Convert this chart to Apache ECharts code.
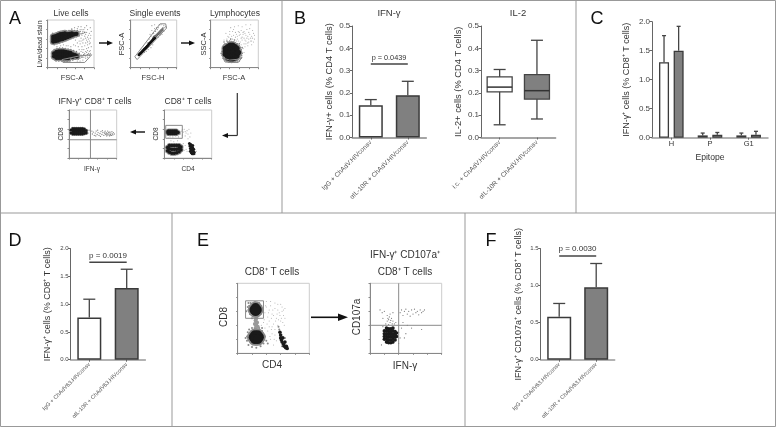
<!DOCTYPE html>
<html><head><meta charset="utf-8">
<style>html,body{margin:0;padding:0;background:#fff}#c{width:776px;height:427px;filter:blur(0.4px)}</style>
<script src="https://cdn.jsdelivr.net/npm/echarts@6/dist/echarts.min.js"></script>
</head><body><div id="c"></div>
<script>
// ---------- bar / box values ----------
const catsB1 = ['IgG + ChAdV.HIVconsv', 'αIL-10R + ChAdV.HIVconsv'];
const valsB1 = [0.145, 0.19];
const errB1 = [0.17, 0.252];
const pB1 = 0.33;
const catsB2 = ['i.c. + ChAdV.HIVconsv', 'αIL-10R + ChAdV.HIVconsv'];
const boxB2 = [[0.057, 0.205, 0.226, 0.272, 0.305], [0.083, 0.172, 0.21, 0.282, 0.436]];
const catsC = ['H', 'P', 'G1'];
const valsC1 = [1.3, 0.04, 0.04];
const errC1 = [1.76, 0.08, 0.08];
const valsC2 = [1.5, 0.05, 0.05];
const errC2 = [1.92, 0.09, 0.11];
const catsD = ['IgG + ChAdV63.HIVconsv', 'αIL-10R + ChAdV63.HIVconsv'];
const valsD = [0.76, 1.29];
const errD = [1.09, 1.63];
const pD = 1.755;
const valsF = [0.58, 0.98];
const errF = [0.76, 1.3];
const pF = 1.4;
// ---------- flow cytometry events (read by eye, % of plot width / height) ----------
const liveDense = [[12,60],[12,55],[12,65],[17,56],[17,62],[17,66],[22,57],[22,63],[22,68],[27,59],[27,65],[27,70],[32,60],[32,66],[32,71],[37,62],[37,68],[37,72],[42,64],[42,70],[47,66],[47,71],[52,68],[52,72],[57,70],[62,71],
 [14,30],[14,24],[19,33],[19,27],[19,21],[24,34],[24,28],[24,21],[29,34],[29,28],[29,21],[34,34],[34,27],[34,20],[39,33],[39,27],[39,20],[44,32],[44,26],[44,20],[49,31],[49,25],[54,28],[54,23],[59,26],[63,24]];
const liveHalo = [[9,52],[9,60],[9,68],[11,72],[14,48],[16,72],[20,50],[22,74],[26,52],[28,76],[32,54],[34,77],[38,57],[40,77],[44,59],[46,78],[50,61],[52,79],[56,63],[58,78],[62,65],[64,78],[68,68],[70,76],[72,71],[76,72],[80,74],
 [10,24],[10,32],[12,18],[14,38],[18,14],[20,40],[24,14],[26,41],[30,14],[32,41],[36,13],[38,40],[42,13],[44,39],[48,14],[50,38],[54,16],[56,36],[60,18],[62,34],[66,18],[68,30],[72,26],[74,22],[78,27],[82,25],[86,27],[90,26]];
const liveSparse = [[64,82],[68,66],[70,80],[72,62],[74,80],[74,68],[76,76],[78,60],[78,80],[80,84],[80,66],[82,70],[84,58],[84,74],[86,64],[86,80],[88,68],[90,72],[90,56],[92,62],[94,76],[70,50],[74,44],[76,52],[80,46],[82,52],[84,40],[86,48],[88,42],[90,50],[92,36],[94,44],[68,38],[72,34],[76,32],[78,38],[80,30],[82,34],[84,32],[86,36],[88,30],[90,34],[92,30],[70,20],[74,24],[78,22],[82,20],[86,22],[60,46],[56,48],[50,44],[44,46],[40,46],[34,48],[28,46],[20,44],[66,86],[58,84],[52,82],[72,86],[84,88],[92,84],[64,14],[70,14],[76,16],[60,58],[68,56],[64,52],[72,56],[76,58],[82,62],[88,60],[93,68],[66,44],[74,38],[86,54],[92,52]];
const singleDense = [[18,27],[20,29],[22,31],[24,33],[26,35],[28,37],[30,39],[32,41],[34,43],[36,45],[38,47],[40,50],[42,52],[44,54],[46,56],[48,58],[50,60],[52,62]];
const singleMid = [[48,62],[50,65],[52,66],[54,67],[54,63],[56,69],[56,65],[58,71],[58,68],[60,73],[60,70],[62,75],[62,71],[64,77],[64,73],[66,79],[66,75],[68,81],[68,77],[70,83],[70,79]];
const singleSparse = [[48,72],[46,78],[52,82],[56,84],[44,66],[60,84],[62,90],[66,90],[72,88],[74,84],[76,86],[44,42],[48,48],[34,34],[38,38],[24,28],[30,32],[40,60],[36,52],[42,70],[54,76],[58,80],[50,72],[72,76],[68,70],[60,64],[28,46],[22,38],[64,68],[46,88],[52,90]];
const lymphDense = [[31,28],[31,34],[31,40],[36,21],[36,28],[36,36],[36,44],[41,19],[41,26],[41,34],[41,42],[41,47],[46,19],[46,26],[46,34],[46,42],[46,47],[51,21],[51,28],[51,36],[51,44],[55,25],[55,32],[55,40],[58,32]];
const lymphHalo = [[24,26],[24,34],[26,44],[30,50],[36,54],[44,55],[52,52],[60,46],[64,38],[66,30],[64,20],[60,14],[50,12],[38,12],[30,16],[26,20],[22,30],[28,48],[40,56],[48,54],[56,50],[62,42],[65,25],[56,14],[44,11],[33,14],[60,50],[34,56],[50,58],[42,60],[28,54],[66,42]];
const lymphSparse = [[28,58],[34,60],[38,64],[46,60],[54,56],[58,56],[62,54],[64,48],[68,40],[70,32],[66,58],[70,50],[72,44],[74,56],[78,52],[80,60],[84,56],[86,48],[88,62],[66,64],[70,62],[74,68],[78,66],[82,70],[86,66],[90,72],[92,60],[60,68],[56,66],[52,64],[48,68],[44,66],[40,70],[36,66],[46,76],[52,74],[58,76],[64,78],[70,76],[76,80],[82,82],[88,78],[42,84],[50,86],[58,88],[66,86],[74,90],[84,90],[32,72],[68,70],[72,58],[62,70],[56,60],[76,62],[80,74],[84,62],[78,46],[74,50],[68,74],[60,74],[54,70],[48,80],[40,76],[86,56],[90,54],[92,68],[80,54],[72,72],[64,62]];
const ifnDense = [[4,52],[4,58],[8,50],[8,54],[8,58],[8,61],[12,50],[12,54],[12,58],[12,61],[16,50],[16,54],[16,58],[16,61],[20,50],[20,54],[20,58],[20,61],[24,50],[24,54],[24,58],[24,61],[28,50],[28,54],[28,58],[28,61],[32,51],[32,56],[32,60],[36,52],[36,57]];
const ifnSparse = [[40,52],[42,58],[49,50],[51,54],[53,47],[55,52],[57,56],[59,49],[61,53],[63,47],[65,51],[67,55],[69,49],[71,53],[73,47],[75,51],[76,56],[77,49],[78,53],[79,46],[80,51],[81,56],[82,48],[83,53],[84,50],[85,46],[86,54],[87,49],[88,52],[89,47],[90,55],[91,50],[92,48],[93,53],[95,50],[60,58],[70,57],[48,56],[56,46],[66,45],[74,54],[80,48],[84,54],[86,47],[78,50]];
const cd8Dense = [[6,54],[9,51],[9,56],[13,51],[13,56],[17,51],[17,56],[21,51],[21,56],[25,51],[25,56],[29,53],
 [7,15],[7,22],[11,12],[11,19],[11,26],[16,10],[16,18],[16,26],[21,10],[21,18],[21,26],[26,11],[26,18],[26,26],[31,13],[31,20],[31,26],[35,17],[35,23]];
const cd8Streak = [[53,30],[54,25],[55,20],[55,14],[56,28],[57,23],[57,11],[58,17],[59,9],[60,26],[60,21],[61,14],[62,9],[62,18],[63,12]];
const cd8Sparse = [[34,50],[36,56],[38,48],[40,54],[42,60],[44,46],[46,52],[48,57],[50,50],[52,60],[54,44],[30,44],[24,46],[18,44],[12,44],[8,42],[40,30],[44,26],[46,18],[48,14],[42,16],[66,8],[68,14],[20,34],[28,36],[14,36],[56,52],[50,40],[38,60],[44,55]];
const e1Core = [[23,62],[27,62],[25,65],[25,60],[22,23],[26,23],[30,23],[24,26],[28,26],[24,20],[28,20]];
const e1Streak = [[59,30],[60,26],[60,22],[61,19],[62,16],[63,22],[64,13],[65,10],[66,16],[67,8],[68,10],[69,7]];
const e1Neck = [[24,54],[26,50],[25,47],[27,44],[24,42],[26,40],[28,38],[25,36]];
const e1Halo = [[15,62],[16,68],[17,56],[18,72],[22,53],[28,53],[32,56],[33,62],[33,68],[30,72],[24,73],[14,66],[15,72],[12,60],[20,50],[13,24],[13,18],[14,30],[15,12],[16,34],[20,36],[24,37],[30,36],[34,32],[36,26],[37,20],[36,14],[32,10],[26,8],[20,9],[11,22],[38,24],[40,18],[34,36],[42,14],[58,34],[62,10],[70,6],[66,22],[57,38]];
const e1Sparse = [[36,44],[38,58],[40,66],[42,52],[44,62],[46,68],[48,56],[50,42],[52,64],[54,50],[56,70],[58,58],[60,46],[62,66],[64,54],[65,40],[44,38],[48,28],[52,34],[46,20],[54,18],[50,12],[42,32],[56,40],[58,26],[62,60],[66,64],[40,74],[46,74],[52,72],[60,70],[38,36],[44,46],[50,54],[56,62],[41,42],[47,34],[53,46],[59,54],[33,40],[43,58],[49,62],[55,56],[61,50],[64,62],[45,24],[51,20],[48,38],[52,26],[37,48],[39,68],[47,50],[57,48],[63,44],[66,50]];
const e2Dense = [[20,20],[20,24],[20,28],[20,32],[23,16],[23,20],[23,24],[23,28],[23,32],[23,36],[26,15],[26,19],[26,23],[26,27],[26,31],[26,35],[29,15],[29,19],[29,23],[29,27],[29,31],[29,35],[32,16],[32,20],[32,24],[32,28],[32,32],[32,36],[35,19],[35,23],[35,27],[35,31],[37,24],[37,29]];
const e2Sparse = [[14,62],[17,58],[20,60],[24,54],[26,48],[28,44],[24,46],[22,42],[30,50],[32,46],[34,42],[28,56],[32,58],[36,44],[18,50],[42,58],[44,62],[46,54],[48,60],[50,63],[52,56],[54,60],[56,53],[58,62],[60,56],[62,63],[64,58],[66,60],[68,55],[70,62],[72,58],[74,60],[76,62],[46,44],[50,28],[48,22],[58,36],[72,34],[44,36],[52,40],[27,52],[29,47],[25,50],[31,42],[26,41],[16,12],[40,14],[18,38],[40,30],[42,22]];
// ---------- gates ----------
const gateLive = [[31,17],[33,11],[80,11],[95,27],[70,25],[31,17]];
const gateSingle = [[9,23],[14,17],[78,83],[76,92],[64,92],[9,23]];
const gateLymph = [[26,20],[30,12],[42,11],[58,11],[66,22],[60,18],[40,16],[26,20]];
const gateCd8 = [[3,41],[38,41],[38,68],[3,68],[3,41]];
const gateE1 = [[11,50],[36,50],[36,75],[11,75],[11,50]];
const quadIfnV = [[45,0],[45,100]], quadIfnH = [[0,38],[100,38]];
const quadE2V = [[40,0],[40,100]], quadE2H = [[0,40],[100,40]];

const FONT = 'Liberation Sans';
const DARK = '#333', AXIS = '#666', WHITE = '#fff', GREY = '#808080';
const grids = [], xAxes = [], yAxes = [], series = [];

function addGrid(left, top, w, h) {
  grids.push({ left, top, width: w, height: h, containLabel: false });
  return grids.length - 1;
}
function errSeries(g, cats, tops, bases, offset, capW) {
  return {
    type: 'custom', xAxisIndex: g, yAxisIndex: g, silent: true, z: 1,
    data: cats.map((c, i) => [i, bases[i], tops[i]]),
    renderItem(params, api) {
      const a = api.coord([api.value(0), api.value(1)]);
      const b = api.coord([api.value(0), api.value(2)]);
      const x = a[0] + offset;
      const st = { stroke: '#444', lineWidth: 1.3 };
      return { type: 'group', children: [
        { type: 'line', shape: { x1: x, y1: a[1], x2: x, y2: b[1] }, style: st },
        { type: 'line', shape: { x1: x - capW / 2, y1: b[1], x2: x + capW / 2, y2: b[1] }, style: st }
      ] };
    }
  };
}
function chartAxes(g, cats, max, interval, yName, nameGap, o) {
  o = o || {};
  xAxes.push({
    type: 'category', gridIndex: g, data: cats, boundaryGap: true,
    name: o.xName || '', nameLocation: 'middle', nameGap: 15,
    nameTextStyle: { fontFamily: FONT, fontSize: 8.6, color: DARK },
    axisLine: { lineStyle: { color: o.xColor || '#888', width: 1.5 } },
    axisTick: { show: true, alignWithLabel: true, length: 2, lineStyle: { color: AXIS } },
    axisLabel: { interval: 0, rotate: o.rot === undefined ? 45 : o.rot, fontFamily: FONT, fontSize: o.catSize || 5.7, color: o.catColor || '#555', margin: o.catMargin === undefined ? 4 : o.catMargin, hideOverlap: false }
  });
  yAxes.push({
    type: 'value', gridIndex: g, min: 0, max, interval,
    name: yName, nameLocation: 'middle', nameGap, nameRotate: 90,
    nameTextStyle: { fontFamily: FONT, fontSize: o.nameSize || 9, color: DARK },
    splitLine: { show: false },
    axisLine: { show: true, lineStyle: { color: AXIS, width: 1 } },
    axisTick: { show: true, length: 2.5, lineStyle: { color: AXIS } },
    axisLabel: { fontFamily: FONT, fontSize: o.tickSize || 8, color: '#444', margin: 2, formatter: v => v.toFixed(1) }
  });
}
function barPanel(pos, cats, vals, errs, p, max, interval, yName, nameGap, o) {
  const g = addGrid(pos[0], pos[1], pos[2], pos[3]);
  chartAxes(g, cats, max, interval, yName, nameGap, o);
  const fills = [WHITE, GREY];
  series.push({
    type: 'bar', xAxisIndex: g, yAxisIndex: g, barWidth: 24, silent: true, z: 2,
    data: vals.map((v, i) => ({ value: v, itemStyle: { color: fills[i], borderColor: '#3a3a3a', borderWidth: 1.5 } }))
  });
  series.push(errSeries(g, cats, errs, vals, 0, 12));
  series.push({
    type: 'line', xAxisIndex: g, yAxisIndex: g, silent: true, showSymbol: false, symbol: 'none',
    lineStyle: { color: '#444', width: 1.5 }, data: [[0, p], [1, p]]
  });
}
function flowPlot(pos, layers, gates) {
  const g = addGrid(pos[0], pos[1], pos[2], pos[3]);
  grids[g].show = true; grids[g].borderColor = '#ccc'; grids[g].borderWidth = 1;
  xAxes.push({ type: 'value', gridIndex: g, min: 0, max: 100, interval: 20, splitLine: { show: false },
    axisLine: { lineStyle: { color: '#888' } }, axisTick: { length: 1.5, inside: false, lineStyle: { color: '#888' } }, axisLabel: { show: false } });
  yAxes.push({ type: 'value', gridIndex: g, min: 0, max: 100, interval: 20, splitLine: { show: false },
    axisLine: { show: true, lineStyle: { color: '#888' } }, axisTick: { length: 1.5, lineStyle: { color: '#888' } }, axisLabel: { show: false } });
  layers.forEach(l => series.push({
    type: 'scatter', xAxisIndex: g, yAxisIndex: g, silent: true, data: l[0], symbolSize: l[1],
    itemStyle: { color: l[2], opacity: 1 }
  }));
  gates.forEach(d => series.push({
    type: 'line', xAxisIndex: g, yAxisIndex: g, silent: true, symbol: 'none', data: d, z: 5,
    lineStyle: { color: '#8a8a8a', width: 1 }
  }));
}

// Panel A
const SOFT = '#8c8c8c';
flowPlot([47.7, 20, 46.3, 47.7], [[liveSparse, 1.2, '#999'], [liveHalo, 1.6, '#777'], [liveDense, 7, SOFT], [liveDense, 4.4, '#1a1a1a']], [gateLive]);
flowPlot([130.7, 20, 46, 47.7], [[singleSparse, 1.2, '#999'], [singleMid, 1.8, '#666'], [singleDense, 3, '#111']], [gateSingle]);
flowPlot([210.7, 20, 47.6, 47.7], [[lymphSparse, 1.1, '#aaa'], [lymphHalo, 1.6, '#777'], [lymphDense, 8, SOFT], [lymphDense, 5.6, '#1a1a1a']], [gateLymph]);
flowPlot([69, 110, 47.7, 48], [[ifnSparse, 1.3, '#888'], [ifnDense, 4, SOFT], [ifnDense, 2.8, '#1a1a1a']], [quadIfnV, quadIfnH]);
flowPlot([164.3, 110, 47.4, 48], [[cd8Sparse, 1.1, '#aaa'], [cd8Dense, 5.2, SOFT], [cd8Streak, 3, '#1a1a1a'], [cd8Dense, 3.6, '#1a1a1a']], [gateCd8]);
// Panel B
barPanel([352.3, 26, 74, 111.5], catsB1, valsB1, errB1, pB1, 0.5, 0.1, 'IFN-γ+ cells (% CD4 T cells)', 18, { catSize: 6.5, nameSize: 9.3 });
const gBox = addGrid(481, 26, 74.6, 111.5);
chartAxes(gBox, catsB2, 0.5, 0.1, 'IL-2+ cells (% CD4 T cells)', 18, { catSize: 6.5, nameSize: 9.3 });
series.push({
  type: 'custom', xAxisIndex: gBox, yAxisIndex: gBox, silent: true, data: boxB2.map((b, i) => [i].concat(b)),
  renderItem(params, api) {
    const i = api.value(0), fill = [WHITE, GREY][i];
    const y = k => api.coord([i, api.value(k)])[1];
    const x = api.coord([i, 0])[0];
    const st = { stroke: '#444', lineWidth: 1.3, fill: 'none' };
    return { type: 'group', children: [
      { type: 'line', shape: { x1: x, y1: y(1), x2: x, y2: y(5) }, style: st },
      { type: 'line', shape: { x1: x - 6, y1: y(1), x2: x + 6, y2: y(1) }, style: st },
      { type: 'line', shape: { x1: x - 6, y1: y(5), x2: x + 6, y2: y(5) }, style: st },
      { type: 'rect', shape: { x: x - 12.5, y: y(4), width: 25, height: y(2) - y(4) }, style: { stroke: '#444', lineWidth: 1.3, fill } },
      { type: 'line', shape: { x1: x - 12.5, y1: y(3), x2: x + 12.5, y2: y(3) }, style: { stroke: '#333', lineWidth: 1.5 } }
    ] };
  }
});
// Panel C
const gC = addGrid(652, 21.7, 116, 116);
chartAxes(gC, catsC, 2, 0.5, 'IFN-γ⁺ cells (% CD8⁺ T cells)', 21, { xName: 'Epitope', xColor: '#999', rot: 0, catSize: 7.5, catColor: DARK, catMargin: 2, nameSize: 9 });
[[valsC1, errC1, WHITE, -7.3], [valsC2, errC2, GREY, 7.3]].forEach(s => {
  series.push({ type: 'bar', xAxisIndex: gC, yAxisIndex: gC, barWidth: 10, barGap: '46%', silent: true, z: 2, data: s[0],
    itemStyle: { color: s[2], borderColor: '#3a3a3a', borderWidth: 1.3 } });
  series.push(errSeries(gC, catsC, s[1], s[0], s[3], 4));
});
// Panel D
barPanel([70.6, 248.7, 74.8, 111], catsD, valsD, errD, pD, 2, 0.5, 'IFN-γ⁺ cells (% CD8⁺ T cells)', 19, { xColor: '#999', tickSize: 6, catSize: 5.6, nameSize: 9 });
// Panel E
flowPlot([237.7, 283.3, 71.6, 70], [[e1Sparse, 1, '#aaa'], [e1Halo, 2, '#888'], [e1Neck, 4, '#999'], [e1Core, 13, '#888'], [e1Streak, 3.6, '#1a1a1a'], [e1Core, 9.5, '#1a1a1a']], [gateE1]);
flowPlot([370, 283.3, 71.7, 70], [[e2Sparse, 1.2, '#777'], [e2Dense, 3.6, '#1a1a1a']], [quadE2V, quadE2H]);
// Panel F
barPanel([540.7, 248.7, 74, 111], catsD, valsF, errF, pF, 1.5, 0.5, 'IFN-γ⁺ CD107a⁺ cells (% CD8⁺ T cells)', 17.5, { xColor: '#999', tickSize: 6, catSize: 5.6, nameSize: 9 });

// ---------- text and arrows ----------
const txt = (text, x, y, size, rot, color) => ({
  type: 'text', x, y, rotation: rot ? Math.PI / 2 : 0, silent: true,
  style: { text, fontFamily: FONT, fontSize: size, fill: color || DARK, align: 'center', verticalAlign: 'middle' }
});
const seg = (x1, y1, x2, y2, w, col) => ({ type: 'line', silent: true, shape: { x1, y1, x2, y2 }, style: { stroke: col, lineWidth: w } });
const tri = (pts) => ({ type: 'polygon', silent: true, shape: { points: pts }, style: { fill: '#111' } });
const BORDER = '#999';
const graphic = [
  { type: 'rect', silent: true, shape: { x: 0.5, y: 0.5, width: 775, height: 426 }, style: { fill: 'none', stroke: BORDER, lineWidth: 1 } },
  seg(0, 213, 776, 213, 1, BORDER), seg(282, 0, 282, 213, 1, BORDER), seg(576, 0, 576, 213, 1, BORDER),
  seg(172, 213, 172, 427, 1, BORDER), seg(465, 213, 465, 427, 1, BORDER),
  txt('A', 15, 19, 18, 0, '#111'), txt('B', 300, 19, 18, 0, '#111'), txt('C', 597, 19, 18, 0, '#111'),
  txt('D', 15, 241, 18, 0, '#111'), txt('E', 203, 241, 18, 0, '#111'), txt('F', 491, 241, 18, 0, '#111'),
  txt('Live cells', 71, 14, 8.5), txt('Single events', 155, 14, 8.5), txt('Lymphocytes', 235, 14, 8.5),
  txt('Live/dead stain', 40, 44, 7, 1), txt('FSC-A', 72, 78, 7.5), txt('FSC-A', 122, 44, 7.5, 1), txt('FSC-H', 153, 78, 7.5),
  txt('SSC-A', 204, 44, 7.5, 1), txt('FSC-A', 234, 78, 7.5),
  txt('IFN-γ⁺ CD8⁺ T cells', 95, 102, 8.5), txt('CD8⁺ T cells', 188, 102, 8.5),
  txt('CD8', 61, 134, 6.5, 1), txt('IFN-γ', 92, 169, 6.5), txt('CD8', 156, 134, 6.5, 1), txt('CD4', 188, 169, 6.5),
  txt('IFN-γ', 389, 13, 9.5), txt('IL-2', 518, 13, 9.5),
  txt('p = 0.0439', 389, 57.5, 7.3), txt('p = 0.0019', 108, 256, 8), txt('p = 0.0030', 577.5, 249, 8),
  txt('CD8⁺ T cells', 272, 272, 10), txt('CD8', 224, 317, 10, 1), txt('CD4', 272, 365, 10),
  txt('IFN-γ⁺ CD107a⁺', 405, 255, 10), txt('CD8⁺ T cells', 405, 272, 10), txt('CD107a', 357, 317, 10, 1), txt('IFN-γ', 405, 366, 10),
  seg(99, 43, 108, 43, 1.4, '#111'), tri([[113, 43], [107, 40.5], [107, 45.5]]),
  seg(181, 43, 190, 43, 1.4, '#111'), tri([[195, 43], [189, 40.5], [189, 45.5]]),
  seg(237.3, 93, 237.3, 135.5, 1.2, '#333'), seg(237.3, 135.5, 227, 135.5, 1.2, '#333'), tri([[222, 135.5], [228, 133], [228, 138]]),
  seg(145, 132, 135, 132, 1.4, '#111'), tri([[130, 132], [136, 129.5], [136, 134.5]]),
  seg(311, 317.3, 340, 317.3, 1.6, '#111'), tri([[348, 317.3], [338, 313.5], [338, 321]])
];

const chart = echarts.init(document.getElementById('c'), null, { renderer: 'canvas' });
chart.setOption({ animation: false, backgroundColor: '#fff', tooltip: { show: false }, grid: grids, xAxis: xAxes, yAxis: yAxes, series, graphic });
</script></body></html>
